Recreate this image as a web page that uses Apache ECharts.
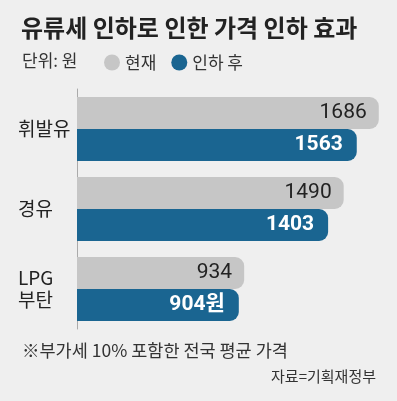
<!DOCTYPE html>
<html>
<head>
<meta charset="utf-8">
<script src="https://cdn.jsdelivr.net/npm/echarts@6/dist/echarts.min.js"></script>
<style>
    html, body { margin: 0; padding: 0; background: #efefef; }
    #chart { width: 397px; height: 401px; }
</style>
</head>
<body>
<div id="chart"></div>
<script>
// 유종
const categories = ['휘발유', '경유', 'LPG\n부탄']
// 현재 가격 (원)
const nowPrice = [1686, 1490, 934]
// 인하 후 가격 (원)
const cutPrice = [1563, 1403, 904]
const seriesNames = ['현재', '인하 후']

const KR = "'Noto Sans CJK KR', sans-serif"
const NUM = "'Roboto', 'Noto Sans CJK KR', sans-serif"

let mycharts = echarts.init(document.getElementById('chart'))
mycharts.setOption({
    backgroundColor: '#efefef',
    title: [
        {
            text: '유류세 인하로 인한 가격 인하 효과',
            left: 16, top: 11,
            textStyle: { fontFamily: KR, fontSize: 24, fontWeight: 'bold', color: '#222' }
        },
        {
            text: '단위: 원',
            left: 17, top: 47,
            textStyle: { fontFamily: KR, fontSize: 17, fontWeight: 'normal', color: '#333' }
        },
        {
            text: '※부가세 10% 포함한 전국 평균 가격',
            left: 17, top: 337,
            textStyle: { fontFamily: KR, fontSize: 17.5, fontWeight: 'normal', color: '#333' }
        },
        {
            text: '자료=기획재정부',
            right: 16, top: 364,
            textStyle: { fontFamily: KR, fontSize: 15, fontWeight: 'normal', color: '#333' }
        }
    ],
    legend: {
        data: seriesNames,
        left: 99, top: 49,
        icon: 'circle',
        itemWidth: 16, itemHeight: 16,
        itemGap: 15,
        textStyle: { fontFamily: KR, fontSize: 17, color: '#333' }
    },
    grid: { left: 77, right: 10, top: 89, bottom: 72 },
    xAxis: {
        type: 'value',
        min: 0, max: 1732,
        show: false
    },
    yAxis: {
        type: 'category',
        data: categories,
        inverse: true,
        axisLine: { show: true, lineStyle: { color: '#aaa', width: 1 } },
        axisTick: { show: false },
        axisLabel: {
            align: 'left',
            margin: 59,
            fontFamily: KR,
            fontSize: 19,
            lineHeight: 22,
            color: '#222'
        }
    },
    series: [
        {
            name: seriesNames[0],
            type: 'bar',
            data: nowPrice,
            barWidth: 32,
            barGap: '0%',
            itemStyle: { color: '#c6c6c6', borderRadius: [0, 9, 9, 0] },
            label: {
                show: true, position: 'insideRight', distance: 12,
                fontFamily: NUM, fontSize: 21, color: '#222'
            }
        },
        {
            name: seriesNames[1],
            type: 'bar',
            data: cutPrice,
            barWidth: 32,
            itemStyle: { color: '#1a6591', borderRadius: [0, 9, 9, 0] },
            label: {
                show: true, position: 'insideRight', distance: 14,
                fontFamily: NUM, fontSize: 21, fontWeight: 'bold', color: '#fff',
                formatter: p => p.dataIndex === cutPrice.length - 1 ? p.value + '원' : String(p.value)
            }
        }
    ]
})
</script>
</body>
</html>
